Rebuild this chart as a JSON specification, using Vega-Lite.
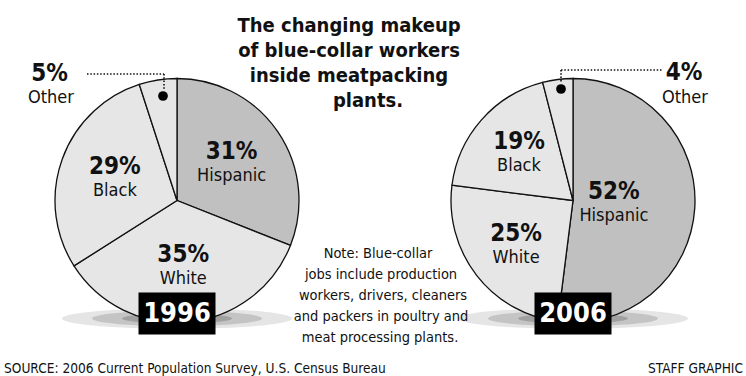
{
  "$schema": "https://vega.github.io/schema/vega-lite/v6.json",
  "width": 746,
  "height": 351,
  "autosize": "none",
  "padding": {"top": 25, "left": 0, "right": 0, "bottom": 0},
  "background": "white",
  "config": {
    "view": {"stroke": null},
    "font": "DejaVu Sans Condensed, sans-serif",
    "text": {"font": "DejaVu Sans Condensed, sans-serif", "color": "#111"}
  },
  "datasets": {
    "shares": [
      {"year": "1996", "group": "Hispanic", "share": 0.31, "seq": 1},
      {"year": "1996", "group": "White", "share": 0.35, "seq": 2},
      {"year": "1996", "group": "Black", "share": 0.29, "seq": 3},
      {"year": "1996", "group": "Other", "share": 0.05, "seq": 4},
      {"year": "2006", "group": "Hispanic", "share": 0.52, "seq": 1},
      {"year": "2006", "group": "White", "share": 0.25, "seq": 2},
      {"year": "2006", "group": "Black", "share": 0.19, "seq": 3},
      {"year": "2006", "group": "Other", "share": 0.04, "seq": 4}
    ],
    "years": [{"year": "1996"}, {"year": "2006"}],
    "headline": [
      {"text": "The changing makeup", "x": 349, "y": 25.5},
      {"text": "of blue-collar workers", "x": 349, "y": 50.5},
      {"text": "inside meatpacking", "x": 349, "y": 75.5},
      {"text": "plants.", "x": 368, "y": 100.5}
    ],
    "note": [
      {"text": "Note: Blue-collar", "x": 378, "y": 254},
      {"text": "jobs include production", "x": 381, "y": 274.5},
      {"text": "workers, drivers, cleaners", "x": 383, "y": 295.5},
      {"text": "and packers in poultry and", "x": 381, "y": 316.5},
      {"text": "meat processing plants.", "x": 380, "y": 337.5}
    ],
    "credits": [
      {"text": "SOURCE: 2006 Current Population Survey, U.S. Census Bureau", "x": 4, "y": 368.5},
      {"text": "STAFF GRAPHIC", "x": 648, "y": 368.5}
    ],
    "otherPct": [
      {"text": "5%", "x": 49.5, "y": 74},
      {"text": "4%", "x": 684, "y": 72.5}
    ],
    "otherName": [
      {"text": "Other", "x": 51, "y": 98},
      {"text": "Other", "x": 685, "y": 98}
    ],
    "leaders": [
      {"x": 87, "y": 74, "x2": 164, "y2": 74},
      {"x": 164, "y": 74, "x2": 164, "y2": 90},
      {"x": 561, "y": 70, "x2": 662, "y2": 70},
      {"x": 561, "y": 70, "x2": 561, "y2": 83}
    ],
    "dots": [
      {"x": 163, "y": 96},
      {"x": 561, "y": 89}
    ]
  },
  "resolve": {"scale": {"x": "independent", "y": "independent"}},
  "layer": [
    {
      "data": {"name": "years"},
      "mark": {"type": "point", "filled": true, "shape": "M-1,0A1,0.09,0,1,0,1,0A1,0.09,0,1,0,-1,0Z", "size": 52900, "color": "#000", "opacity": 0.1, "strokeWidth": 0, "yOffset": 118},
      "encoding": {"x": {"field": "year", "type": "nominal", "scale": {"type": "point", "domain": ["1996", "2006"], "range": [177, 573], "padding": 0}, "axis": null}}
    },
    {
      "data": {"name": "years"},
      "mark": {"type": "point", "filled": true, "shape": "M-1,0A1,0.09,0,1,0,1,0A1,0.09,0,1,0,-1,0Z", "size": 28900, "color": "#000", "opacity": 0.14, "strokeWidth": 0, "yOffset": 118},
      "encoding": {"x": {"field": "year", "type": "nominal", "scale": {"type": "point", "domain": ["1996", "2006"], "range": [177, 573], "padding": 0}, "axis": null}}
    },
    {
      "data": {"name": "years"},
      "mark": {"type": "point", "filled": true, "shape": "M-1,0A1,0.09,0,1,0,1,0A1,0.09,0,1,0,-1,0Z", "size": 12100, "color": "#000", "opacity": 0.18, "strokeWidth": 0, "yOffset": 118},
      "encoding": {"x": {"field": "year", "type": "nominal", "scale": {"type": "point", "domain": ["1996", "2006"], "range": [177, 573], "padding": 0}, "axis": null}}
    },
    {
      "data": {"name": "shares"},
      "transform": [{"filter": "datum.year == '1996'"}],
      "mark": {"type": "arc", "outerRadius": 122, "stroke": "#111", "strokeWidth": 1.3},
      "encoding": {
        "x": {"field": "year", "type": "nominal", "scale": {"type": "point", "domain": ["1996", "2006"], "range": [177, 573], "padding": 0}, "axis": null},
        "theta": {"field": "share", "type": "quantitative", "stack": true},
        "color": {"field": "group", "type": "nominal", "scale": {"domain": ["Hispanic", "White", "Black", "Other"], "range": ["#c0c0c0", "#e6e6e6", "#e6e6e6", "#e6e6e6"]}, "legend": null},
        "order": {"field": "seq", "type": "quantitative"}
      }
    },
    {
      "data": {"name": "shares"},
      "transform": [{"filter": "datum.year == '2006'"}],
      "mark": {"type": "arc", "outerRadius": 122, "stroke": "#111", "strokeWidth": 1.3},
      "encoding": {
        "x": {"field": "year", "type": "nominal", "scale": {"type": "point", "domain": ["1996", "2006"], "range": [177, 573], "padding": 0}, "axis": null},
        "theta": {"field": "share", "type": "quantitative", "stack": true},
        "color": {"field": "group", "type": "nominal", "scale": {"domain": ["Hispanic", "White", "Black", "Other"], "range": ["#c0c0c0", "#e6e6e6", "#e6e6e6", "#e6e6e6"]}, "legend": null},
        "order": {"field": "seq", "type": "quantitative"}
      }
    },
    {
      "data": {"name": "shares"},
      "transform": [{"filter": "datum.year == '1996' && datum.group != 'Other'"}],
      "mark": {"type": "text", "radius": 66, "dy": -11, "fontSize": 24, "fontWeight": "bold", "baseline": "middle", "align": "center"},
      "encoding": {
        "x": {"field": "year", "type": "nominal", "scale": {"type": "point", "domain": ["1996", "2006"], "range": [177, 573], "padding": 0}, "axis": null},
        "theta": {"field": "share", "type": "quantitative", "stack": true},
        "order": {"field": "seq", "type": "quantitative"},
        "text": {"field": "share", "type": "quantitative", "format": ".0%"}
      }
    },
    {
      "data": {"name": "shares"},
      "transform": [{"filter": "datum.year == '1996' && datum.group != 'Other'"}],
      "mark": {"type": "text", "radius": 66, "dy": 13, "fontSize": 18, "baseline": "middle", "align": "center"},
      "encoding": {
        "x": {"field": "year", "type": "nominal", "scale": {"type": "point", "domain": ["1996", "2006"], "range": [177, 573], "padding": 0}, "axis": null},
        "theta": {"field": "share", "type": "quantitative", "stack": true},
        "order": {"field": "seq", "type": "quantitative"},
        "text": {"field": "group", "type": "nominal"}
      }
    },
    {
      "data": {"name": "shares"},
      "transform": [{"filter": "datum.year == '2006' && datum.group != 'Other'"}],
      "mark": {"type": "text", "radius": 72, "dy": -11, "fontSize": 24, "fontWeight": "bold", "baseline": "middle", "align": "center"},
      "encoding": {
        "x": {"field": "year", "type": "nominal", "scale": {"type": "point", "domain": ["1996", "2006"], "range": [177, 573], "padding": 0}, "axis": null},
        "theta": {"field": "share", "type": "quantitative", "stack": true},
        "order": {"field": "seq", "type": "quantitative"},
        "opacity": {"condition": {"test": "datum.share > 0.5", "value": 0}, "value": 1},
        "text": {"field": "share", "type": "quantitative", "format": ".0%"}
      }
    },
    {
      "data": {"name": "shares"},
      "transform": [{"filter": "datum.year == '2006' && datum.group != 'Other'"}],
      "mark": {"type": "text", "radius": 72, "dy": 13, "fontSize": 18, "baseline": "middle", "align": "center"},
      "encoding": {
        "x": {"field": "year", "type": "nominal", "scale": {"type": "point", "domain": ["1996", "2006"], "range": [177, 573], "padding": 0}, "axis": null},
        "theta": {"field": "share", "type": "quantitative", "stack": true},
        "order": {"field": "seq", "type": "quantitative"},
        "opacity": {"condition": {"test": "datum.share > 0.5", "value": 0}, "value": 1},
        "text": {"field": "group", "type": "nominal"}
      }
    },
    {
      "data": {"name": "shares"},
      "transform": [{"filter": "datum.year == '2006' && datum.share > 0.5"}],
      "mark": {"type": "text", "radius": 41, "dy": -11, "fontSize": 24, "fontWeight": "bold", "baseline": "middle", "align": "center"},
      "encoding": {
        "x": {"field": "year", "type": "nominal", "scale": {"type": "point", "domain": ["1996", "2006"], "range": [177, 573], "padding": 0}, "axis": null},
        "theta": {"field": "share", "type": "quantitative", "stack": true},
        "order": {"field": "seq", "type": "quantitative"},
        "text": {"field": "share", "type": "quantitative", "format": ".0%"}
      }
    },
    {
      "data": {"name": "shares"},
      "transform": [{"filter": "datum.year == '2006' && datum.share > 0.5"}],
      "mark": {"type": "text", "radius": 41, "dy": 13, "fontSize": 18, "baseline": "middle", "align": "center"},
      "encoding": {
        "x": {"field": "year", "type": "nominal", "scale": {"type": "point", "domain": ["1996", "2006"], "range": [177, 573], "padding": 0}, "axis": null},
        "theta": {"field": "share", "type": "quantitative", "stack": true},
        "order": {"field": "seq", "type": "quantitative"},
        "text": {"field": "group", "type": "nominal"}
      }
    },
    {
      "data": {"name": "years"},
      "mark": {"type": "point", "filled": true, "shape": "M-1,-0.545L1,-0.545L1,0.545L-1,0.545Z", "size": 5929, "color": "#000", "opacity": 1, "strokeWidth": 0, "yOffset": 113},
      "encoding": {"x": {"field": "year", "type": "nominal", "scale": {"type": "point", "domain": ["1996", "2006"], "range": [177, 573], "padding": 0}, "axis": null}}
    },
    {
      "data": {"name": "years"},
      "mark": {"type": "text", "dy": 113, "fontSize": 27, "fontWeight": "bold", "color": "#fff", "baseline": "middle", "align": "center"},
      "encoding": {
        "x": {"field": "year", "type": "nominal", "scale": {"type": "point", "domain": ["1996", "2006"], "range": [177, 573], "padding": 0}, "axis": null},
        "text": {"field": "year", "type": "nominal"}
      }
    },
    {
      "data": {"name": "leaders"},
      "mark": {"type": "rule", "stroke": "#111", "strokeWidth": 1.6, "strokeDash": [1.5, 1.8]},
      "encoding": {
        "x": {"field": "x", "type": "quantitative", "scale": {"domain": [0, 746], "nice": false, "zero": false}, "axis": null},
        "y": {"field": "y", "type": "quantitative", "scale": {"domain": [25, 376], "reverse": true, "nice": false, "zero": false}, "axis": null},
        "x2": {"field": "x2"},
        "y2": {"field": "y2"}
      }
    },
    {
      "data": {"name": "dots"},
      "mark": {"type": "point", "filled": true, "size": 95, "color": "#000", "opacity": 1, "strokeWidth": 0},
      "encoding": {
        "x": {"field": "x", "type": "quantitative", "scale": {"domain": [0, 746], "nice": false, "zero": false}, "axis": null},
        "y": {"field": "y", "type": "quantitative", "scale": {"domain": [25, 376], "reverse": true, "nice": false, "zero": false}, "axis": null}
      }
    },
    {
      "data": {"name": "otherPct"},
      "mark": {"type": "text", "fontSize": 24, "fontWeight": "bold", "baseline": "middle", "align": "center"},
      "encoding": {
        "x": {"field": "x", "type": "quantitative", "scale": {"domain": [0, 746], "nice": false, "zero": false}, "axis": null},
        "y": {"field": "y", "type": "quantitative", "scale": {"domain": [25, 376], "reverse": true, "nice": false, "zero": false}, "axis": null},
        "text": {"field": "text", "type": "nominal"}
      }
    },
    {
      "data": {"name": "otherName"},
      "mark": {"type": "text", "fontSize": 18, "baseline": "middle", "align": "center"},
      "encoding": {
        "x": {"field": "x", "type": "quantitative", "scale": {"domain": [0, 746], "nice": false, "zero": false}, "axis": null},
        "y": {"field": "y", "type": "quantitative", "scale": {"domain": [25, 376], "reverse": true, "nice": false, "zero": false}, "axis": null},
        "text": {"field": "text", "type": "nominal"}
      }
    },
    {
      "data": {"name": "headline"},
      "mark": {"type": "text", "fontSize": 20, "fontWeight": "bold", "baseline": "middle", "align": "center"},
      "encoding": {
        "x": {"field": "x", "type": "quantitative", "scale": {"domain": [0, 746], "nice": false, "zero": false}, "axis": null},
        "y": {"field": "y", "type": "quantitative", "scale": {"domain": [25, 376], "reverse": true, "nice": false, "zero": false}, "axis": null},
        "text": {"field": "text", "type": "nominal"}
      }
    },
    {
      "data": {"name": "note"},
      "mark": {"type": "text", "fontSize": 14.5, "baseline": "middle", "align": "center"},
      "encoding": {
        "x": {"field": "x", "type": "quantitative", "scale": {"domain": [0, 746], "nice": false, "zero": false}, "axis": null},
        "y": {"field": "y", "type": "quantitative", "scale": {"domain": [25, 376], "reverse": true, "nice": false, "zero": false}, "axis": null},
        "text": {"field": "text", "type": "nominal"}
      }
    },
    {
      "data": {"name": "credits"},
      "mark": {"type": "text", "fontSize": 13.6, "baseline": "middle", "align": "left"},
      "encoding": {
        "x": {"field": "x", "type": "quantitative", "scale": {"domain": [0, 746], "nice": false, "zero": false}, "axis": null},
        "y": {"field": "y", "type": "quantitative", "scale": {"domain": [25, 376], "reverse": true, "nice": false, "zero": false}, "axis": null},
        "text": {"field": "text", "type": "nominal"}
      }
    }
  ]
}
